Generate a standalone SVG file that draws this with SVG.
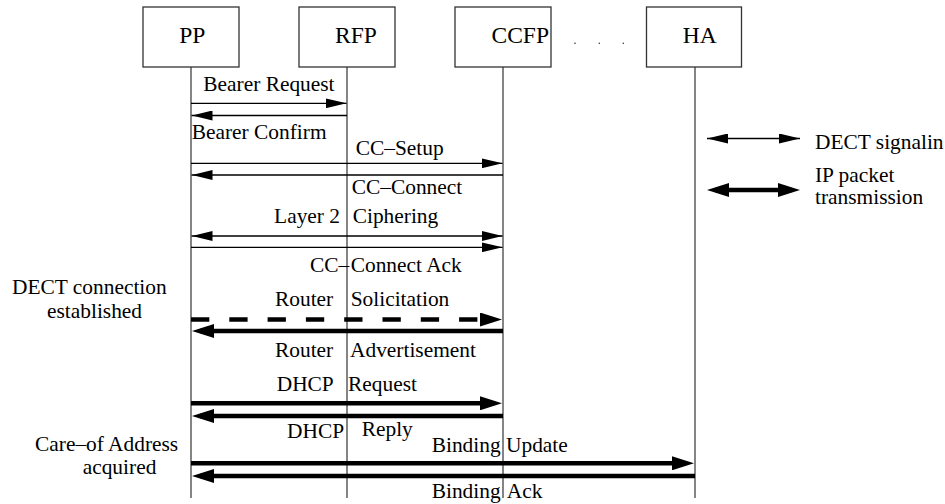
<svg xmlns="http://www.w3.org/2000/svg" width="945" height="504" viewBox="0 0 945 504">
<style>
  .box{fill:#fff;stroke:#333;stroke-width:1.3}
  .life{stroke:#333;stroke-width:1.2;fill:none}
  .bt{font-family:"Liberation Serif","Times New Roman",serif;font-size:23.5px;fill:#000}
  .t{font-family:"Liberation Serif","Times New Roman",serif;font-size:21.4px;fill:#000}
  .thin{stroke:#000;stroke-width:1.3;fill:none;marker-end:url(#ah)}
  .thick{stroke:#000;stroke-width:4.6;fill:none;marker-end:url(#ahT)}
  .dash{stroke-dasharray:18.3 20}
</style>
<defs>
  <marker id="ah" markerUnits="userSpaceOnUse" markerWidth="21" markerHeight="10" refX="21" refY="5" orient="auto-start-reverse" viewBox="0 0 21 10">
    <path d="M0,0 L21,5 L0,10 z" fill="#000"/>
  </marker>
  <marker id="ahT" markerUnits="userSpaceOnUse" markerWidth="22" markerHeight="14" refX="14" refY="7" orient="auto-start-reverse" viewBox="0 0 22 14">
    <path d="M0,0 L22,7 L0,14 z" fill="#000"/>
  </marker>
</defs>
<rect width="945" height="504" fill="#fff"/>

<g id="node-PP">
  <rect class="box" x="143" y="7" width="96" height="60"/>
  <text class="bt" x="179.3" y="43">PP</text>
  <line class="life" x1="191" y1="67" x2="191" y2="498"/>
</g>
<g id="node-RFP">
  <rect class="box" x="299" y="7" width="96" height="60"/>
  <text class="bt" x="335" y="43">RFP</text>
  <line class="life" x1="347" y1="67" x2="347" y2="498"/>
</g>
<g id="node-CCFP">
  <rect class="box" x="455" y="7" width="96" height="60"/>
  <text class="bt" x="491.5" y="43">CCFP</text>
  <line class="life" x1="503" y1="67" x2="503" y2="498"/>
</g>
<g id="dots">
  <circle cx="575" cy="43.3" r="0.8" fill="#333"/>
  <circle cx="599.3" cy="43.3" r="0.8" fill="#333"/>
  <circle cx="623.3" cy="43.3" r="0.8" fill="#333"/>
</g>
<g id="node-HA">
  <rect class="box" x="646.5" y="7" width="95" height="60"/>
  <text class="bt" x="682.7" y="43">HA</text>
  <line class="life" x1="695" y1="67" x2="695" y2="498"/>
</g>

<g id="connectors">
  <line class="thin" x1="191" y1="103.3" x2="346.5" y2="103.3"/>
  <line class="thin" x1="347" y1="115.5" x2="191.5" y2="115.5"/>
  <line class="thin" x1="191" y1="163.3" x2="502.5" y2="163.3"/>
  <line class="thin" x1="503" y1="175" x2="191.5" y2="175"/>
  <line class="thin" x1="191.5" y1="236" x2="502.5" y2="236" marker-start="url(#ah)"/>
  <line class="thin" x1="191" y1="247.3" x2="502.5" y2="247.3"/>
  <line class="thick dash" x1="191" y1="319.5" x2="494" y2="319.5"/>
  <line class="thick" x1="503" y1="331" x2="200" y2="331"/>
  <line class="thick" x1="191" y1="403.3" x2="494" y2="403.3"/>
  <line class="thick" x1="503" y1="416" x2="200" y2="416"/>
  <line class="thick" x1="191" y1="463.3" x2="686" y2="463.3"/>
  <line class="thick" x1="695" y1="476" x2="200" y2="476"/>
</g>

<g id="labels">
  <text class="t" x="203.3" y="90.7">Bearer Request</text>
  <text class="t" x="191.7" y="139.3">Bearer Confirm</text>
  <text class="t" x="355.7" y="155">CC–Setup</text>
  <text class="t" x="351.7" y="194">CC–Connect</text>
  <text class="t" x="340" y="222.7" text-anchor="end">Layer 2</text>
  <text class="t" x="352.7" y="222.7">Ciphering</text>
  <text class="t" x="310" y="271.7">CC–</text>
  <text class="t" x="350.7" y="271.7">Connect Ack</text>
  <text class="t" x="275" y="306">Router</text>
  <text class="t" x="350.7" y="306">Solicitation</text>
  <text class="t" x="275" y="356.5">Router</text>
  <text class="t" x="350" y="356.5">Advertisement</text>
  <text class="t" x="276.7" y="390.7">DHCP</text>
  <text class="t" x="348" y="390.7">Request</text>
  <text class="t" x="287" y="437.7">DHCP</text>
  <text class="t" x="361.7" y="435.5">Reply</text>
  <text class="t" x="431.7" y="451.7">Binding</text>
  <text class="t" x="506" y="451.7">Update</text>
  <text class="t" x="431.7" y="498">Binding</text>
  <text class="t" x="506.7" y="498">Ack</text>
  <text class="t" x="12" y="294">DECT connection</text>
  <text class="t" x="47" y="318">established</text>
  <text class="t" x="35" y="451">Care–of Address</text>
  <text class="t" x="82.7" y="474">acquired</text>
</g>

<g id="legend">
  <line class="thin" x1="707" y1="138.5" x2="800" y2="138.5" marker-start="url(#ah)"/>
  <text class="t" x="815" y="149.3">DECT signalin</text>
  <line class="thick" x1="715" y1="190" x2="792" y2="190" marker-start="url(#ahT)"/>
  <text class="t" x="815" y="182.3">IP packet</text>
  <text class="t" x="815" y="204">transmission</text>
</g>
</svg>
